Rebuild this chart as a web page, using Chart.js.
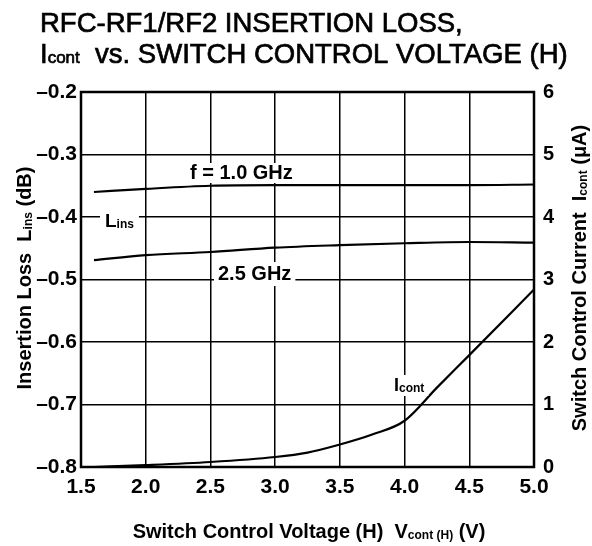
<!DOCTYPE html>
<html>
<head>
<meta charset="utf-8">
<script src="https://cdn.jsdelivr.net/npm/chart.js@4/dist/chart.umd.min.js"></script>
<style>
  html, body { margin: 0; padding: 0; background: #fff; }
  #wrap { width: 592px; height: 546px; position: relative; }
</style>
</head>
<body>
<div id="wrap"><canvas id="chart"></canvas></div>
<script>
'use strict';

// values
var voltage = [1.6, 2.0, 2.5, 3.0, 3.5, 4.0, 4.5, 5.0];
var loss1G  = [-0.360, -0.355, -0.350, -0.349, -0.349, -0.349, -0.349, -0.348];
var loss25G = [-0.469, -0.461, -0.456, -0.449, -0.445, -0.442, -0.440, -0.441];

var icontV = [1.6, 2.0, 2.5, 3.0, 3.25, 3.5, 3.75, 4.0, 4.25, 4.5, 5.0];
var icont  = [0, 0.03, 0.08, 0.16, 0.23, 0.36, 0.52, 0.74, 1.27, 1.79, 2.84];

var FONT = '"Liberation Sans", Arial, Helvetica, sans-serif';

function points(xs, ys) {
  var out = [];
  for (var i = 0; i < xs.length; i++) out.push({x: xs[i], y: ys[i]});
  return out;
}

// parts: [text, size, dy, weight]  (dy > 0 pushes a subscript down)
function richWidth(ctx, parts) {
  var w = 0;
  parts.forEach(function(p) {
    ctx.font = (p[3] || 'bold') + ' ' + p[1] + 'px ' + FONT;
    w += ctx.measureText(p[0]).width;
  });
  return w;
}

function richText(ctx, parts, x, y, align, bg, stroke) {
  var w = richWidth(ctx, parts);
  var sx = align === 'center' ? x - w / 2 : (align === 'right' ? x - w : x);
  if (bg) {
    ctx.fillStyle = '#fff';
    ctx.fillRect(sx - bg[0], y - bg[1], w + bg[0] * 2, bg[1] + bg[2]);
  }
  ctx.fillStyle = '#000';
  ctx.strokeStyle = '#000';
  ctx.textBaseline = 'alphabetic';
  ctx.textAlign = 'left';
  parts.forEach(function(p) {
    ctx.font = (p[3] || 'bold') + ' ' + p[1] + 'px ' + FONT;
    ctx.fillText(p[0], sx, y + (p[2] || 0));
    if (stroke) {
      ctx.lineWidth = stroke;
      ctx.strokeText(p[0], sx, y + (p[2] || 0));
    }
    sx += ctx.measureText(p[0]).width;
  });
}

function rotatedText(ctx, parts, cy, baseX) {
  ctx.save();
  ctx.translate(baseX, cy);
  ctx.rotate(-Math.PI / 2);
  richText(ctx, parts, 0, 0, 'center');
  ctx.restore();
}

var labelsPlugin = {
  id: 'labels',
  afterDatasetsDraw: function(chart) {
    var ctx = chart.ctx;
    ctx.save();
    richText(ctx, [['f = 1.0 GHz', 20]], 190, 179, 'left', [3, 16, 4]);
    richText(ctx, [['L', 19], ['ins', 12, 1]], 105, 227, 'left', [5, 14, 4]);
    richText(ctx, [['2.5 GHz', 20]], 218, 280, 'left', [4, 18, 6]);
    richText(ctx, [['I', 18], ['cont', 12, 1]], 394, 391, 'left', [4, 16, 5]);
    ctx.restore();
  },
  afterDraw: function(chart) {
    var ctx = chart.ctx;
    var a = chart.chartArea;
    ctx.save();
    ctx.strokeStyle = '#000';
    ctx.lineWidth = 2.5;
    ctx.strokeRect(a.left, a.top, a.right - a.left, a.bottom - a.top);

    // title
    richText(ctx, [['RFC-RF1/RF2 INSERTION LOSS,', 27.5, 0, 'normal']], 40, 32, 'left', null, 0.7);
    richText(ctx, [['I', 27.5, 0, 'normal'], ['cont', 17, 0, 'normal'],
                   ['  vs. SWITCH CONTROL VOLTAGE (H)', 27.5, 0, 'normal']], 40, 63, 'left', null, 0.7);

    // axis titles
    richText(ctx, [['Switch Control Voltage (H)  V', 20], ['cont (H)', 12, 1], [' (V)', 20]], 309, 538, 'center');
    rotatedText(ctx, [['Insertion Loss  L', 20], ['ins', 12, 1], [' (dB)', 20]], 278, 31);
    rotatedText(ctx, [['Switch Control Current  I', 20], ['cont', 12, 1], [' (\u03bcA)', 20]], 278, 586);
    ctx.restore();
  }
};

var lineStyle = {
  borderColor: '#000',
  borderWidth: 2.2,
  pointRadius: 0,
  fill: false,
  cubicInterpolationMode: 'monotone'
};

new Chart(document.getElementById('chart'), {
  type: 'line',
  data: {
    datasets: [
      Object.assign({label: 'f = 1.0 GHz', data: points(voltage, loss1G), yAxisID: 'y'}, lineStyle),
      Object.assign({label: '2.5 GHz', data: points(voltage, loss25G), yAxisID: 'y'}, lineStyle),
      Object.assign({label: 'Icont', data: points(icontV, icont), yAxisID: 'y2'}, lineStyle)
    ]
  },
  options: {
    responsive: true,
    maintainAspectRatio: false,
    animation: false,
    layout: {padding: {top: 92, left: 0, right: 0, bottom: 0}},
    plugins: {legend: {display: false}, tooltip: {enabled: false}, title: {display: false}},
    scales: {
      x: {
        type: 'linear',
        min: 1.5, max: 5.0,
        afterFit: function(s) { s.height = 79; },
        grid: {color: '#000', lineWidth: 1.5, drawTicks: false},
        border: {display: false},
        ticks: {
          stepSize: 0.5, padding: 8, color: '#000', maxRotation: 0,
          font: {family: FONT, size: 21, weight: 'bold'},
          callback: function(v) { return Number(v).toFixed(1); }
        }
      },
      y: {
        position: 'left',
        min: -0.8, max: -0.2,
        afterFit: function(s) { s.width = 81; },
        grid: {color: '#000', lineWidth: 1.5, drawTicks: false},
        border: {display: false},
        ticks: {
          stepSize: 0.1, padding: 4, color: '#000',
          font: {family: FONT, size: 21, weight: 'bold'},
          callback: function(v) { return Number(v).toFixed(1).replace('-', '\u2013'); }
        }
      },
      y2: {
        position: 'right',
        min: 0, max: 6,
        afterFit: function(s) { s.width = 58; },
        grid: {display: false, drawTicks: false},
        border: {display: false},
        ticks: {
          stepSize: 1, padding: 9, color: '#000',
          font: {family: FONT, size: 20, weight: 'bold'}
        }
      }
    }
  },
  plugins: [labelsPlugin]
});
</script>
</body>
</html>
